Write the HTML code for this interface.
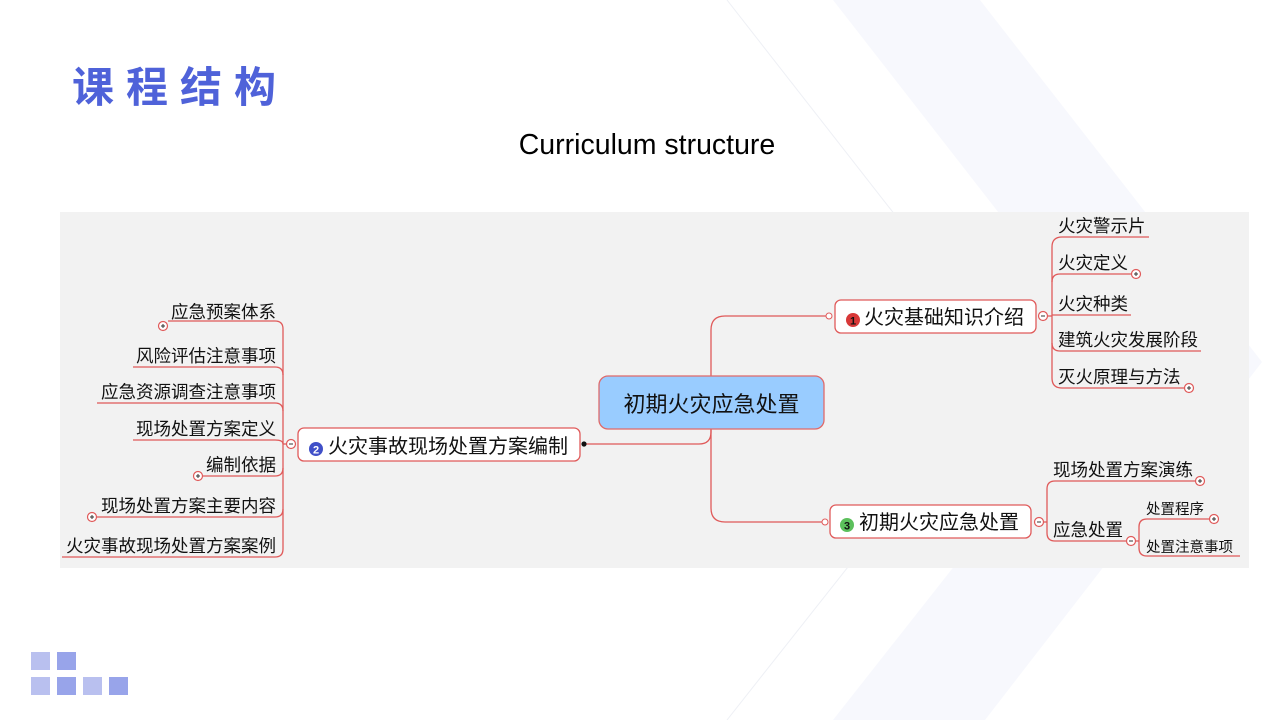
<!DOCTYPE html>
<html><head><meta charset="utf-8"><style>
html,body{margin:0;padding:0;background:#fff;}
body{width:1280px;height:720px;overflow:hidden;position:relative;font-family:"Liberation Sans","Noto Sans CJK SC",sans-serif;}
svg{position:absolute;left:0;top:0;}
</style></head><body>
<svg width="1280" height="720" viewBox="0 0 1280 720" xmlns="http://www.w3.org/2000/svg" font-family="Liberation Sans, Noto Sans CJK SC, sans-serif">
<polygon points="833,0 980,0 1262,362 985,720 833,720 1115,362" fill="#f7f8fd"/>
<line x1="727" y1="0" x2="1010" y2="362" stroke="#eef0f5" stroke-width="1"/>
<line x1="1010" y1="362" x2="727" y2="720" stroke="#eef0f5" stroke-width="1"/>
<text x="72" y="102" font-size="42" font-weight="bold" fill="#4f62d9" letter-spacing="12" font-family="Liberation Sans, Noto Sans CJK SC, sans-serif">课程结构</text>
<text x="647" y="154" font-size="28.5" text-anchor="middle" fill="#000">Curriculum structure</text>
<g fill="#b9c0ef"><rect x="31" y="652" width="19" height="18"/><rect x="31" y="677" width="19" height="18"/><rect x="83" y="677" width="19" height="18"/></g>
<g fill="#98a4ea"><rect x="57" y="652" width="19" height="18"/><rect x="57" y="677" width="19" height="18"/><rect x="109" y="677" width="19" height="18"/></g>
<rect x="60" y="212" width="1189" height="356" fill="#f2f2f2"/>
<g fill="none" stroke="#e05a5a" stroke-width="1.3">
<path d="M711,376 V330 Q711,316 725,316 H826"/>
<path d="M711,429 V432 Q711,444 699,444 H586"/>
<path d="M711,429 V508 Q711,522 725,522 H822"/>
<path d="M1047,316 H1052"/>
<path d="M1149,237 H1062 Q1052,237 1052,247 V378 Q1052,388 1062,388 H1184"/>
<path d="M1131,274 H1060 Q1052,274 1052,282"/>
<path d="M1131,315 H1052"/>
<path d="M1201,351 H1060 Q1052,351 1052,343"/>
<path d="M287,444 H283"/>
<path d="M168,321 H275 Q283,321 283,329 V549 Q283,557 275,557 H62"/>
<path d="M133,367 H275 Q283,367 283,375"/>
<path d="M97,403 H275 Q283,403 283,411"/>
<path d="M133,440 H275 Q283,440 283,444"/>
<path d="M203,476 H275 Q283,476 283,468"/>
<path d="M97,517 H275 Q283,517 283,509"/>
<path d="M1043,522 H1047"/>
<path d="M1195,481 H1055 Q1047,481 1047,489 V533 Q1047,541 1055,541 H1127"/>
<path d="M1135,541 H1139"/>
<path d="M1209,519 H1147 Q1139,519 1139,527 V548 Q1139,556 1147,556 H1240"/>
</g>
<rect x="599" y="376" width="225" height="53" rx="9" fill="#99ccff" stroke="#e06a6a" stroke-width="1.3"/>
<text x="711.5" y="412" font-size="22" text-anchor="middle" fill="#111">初期火灾应急处置</text>
<rect x="835" y="300" width="201" height="33" rx="6" fill="#fff" stroke="#e05a5a" stroke-width="1.3"/>
<rect x="298" y="428" width="282" height="33" rx="6" fill="#fff" stroke="#e05a5a" stroke-width="1.3"/>
<rect x="830" y="505" width="201" height="33" rx="6" fill="#fff" stroke="#e05a5a" stroke-width="1.3"/>
<circle cx="853" cy="320" r="7" fill="#d83838"/><text x="853" y="324.5" font-size="11" font-weight="bold" text-anchor="middle" fill="#111">1</text>
<circle cx="316" cy="449" r="7" fill="#4050c8"/><text x="316" y="453.5" font-size="11" font-weight="bold" text-anchor="middle" fill="#fff">2</text>
<circle cx="847" cy="525" r="7" fill="#5cc05c"/><text x="847" y="529.5" font-size="11" font-weight="bold" text-anchor="middle" fill="#111">3</text>
<g font-size="20" fill="#111">
<text x="864" y="324">火灾基础知识介绍</text>
<text x="328" y="453">火灾事故现场处置方案编制</text>
<text x="859" y="529">初期火灾应急处置</text>
</g>
<circle cx="829" cy="316" r="3" fill="#fff" stroke="#e05a5a"/>
<circle cx="825" cy="522" r="3" fill="#fff" stroke="#e05a5a"/>
<circle cx="584" cy="444" r="2.6" fill="#111"/>
<g fill="#fff" stroke="#e05a5a" stroke-width="1.2">
<circle cx="1043" cy="316" r="4.5"/><circle cx="291" cy="444" r="4.5"/><circle cx="1039" cy="522" r="4.5"/><circle cx="1131" cy="541" r="4.5"/>
<circle cx="1136" cy="274" r="4.5"/><circle cx="1189" cy="388" r="4.5"/><circle cx="163" cy="326" r="4.5"/><circle cx="198" cy="476" r="4.5"/><circle cx="92" cy="517" r="4.5"/><circle cx="1200" cy="481" r="4.5"/><circle cx="1214" cy="519" r="4.5"/>
</g>
<g stroke="#333" stroke-width="1">
<path d="M1041,316 h4 M289,444 h4 M1037,522 h4 M1129,541 h4"/>
<path d="M1134,274 h4 M1136,272 v4 M1187,388 h4 M1189,386 v4 M161,326 h4 M163,324 v4 M196,476 h4 M198,474 v4 M90,517 h4 M92,515 v4 M1198,481 h4 M1200,479 v4 M1212,519 h4 M1214,517 v4"/>
</g>
<g font-size="17.5" fill="#111">
<text x="1058" y="232">火灾警示片</text>
<text x="1058" y="269">火灾定义</text>
<text x="1058" y="310">火灾种类</text>
<text x="1058" y="346">建筑火灾发展阶段</text>
<text x="1058" y="383">灭火原理与方法</text>
<text x="1053" y="476">现场处置方案演练</text>
<text x="1053" y="536">应急处置</text>
</g>
<g font-size="17.5" fill="#111" text-anchor="end">
<text x="276" y="318">应急预案体系</text>
<text x="276" y="362">风险评估注意事项</text>
<text x="276" y="398">应急资源调查注意事项</text>
<text x="276" y="435">现场处置方案定义</text>
<text x="276" y="471">编制依据</text>
<text x="276" y="512">现场处置方案主要内容</text>
<text x="276" y="552">火灾事故现场处置方案案例</text>
</g>
<g font-size="14.5" fill="#111">
<text x="1146" y="514">处置程序</text>
<text x="1146" y="552">处置注意事项</text>
</g>
</svg>
</body></html>
